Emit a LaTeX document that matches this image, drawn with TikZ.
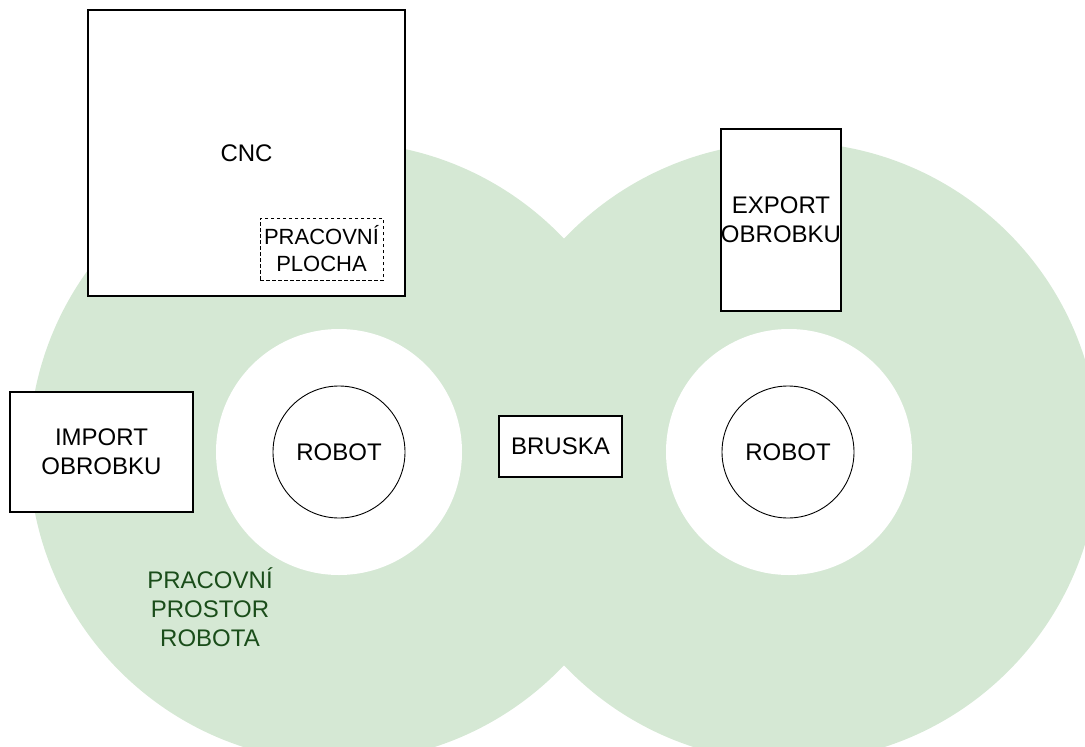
\documentclass[tikz,border=0pt]{standalone}
\usepackage{fontspec}
\setmainfont{Liberation Sans}
\definecolor{zonefill}{HTML}{D5E8D4}
\definecolor{zonetext}{HTML}{1A4D1A}
\begin{document}
\begin{tikzpicture}[x=1pt,y=-1pt,
  lbl/.style={font=\fontsize{24}{29}\selectfont, align=center},
  box/.style={lbl, draw=black, line width=1.2pt, fill=white, inner sep=0pt},
  table/.style={draw=black, line width=0.9pt, dash pattern=on 3.5pt off 2.5pt,
    inner sep=0pt, align=center, font=\fontsize{22}{27}\selectfont},
  robot/.style={lbl, circle, draw=black, line width=0.9pt, fill=white,
    inner sep=0pt, minimum size=132pt},
  reach/.style={fill=zonefill},
  hole/.style={fill=white}]
\useasboundingbox (0,0) rectangle (1085,747);
\clip (0,0) rectangle (1085,747);

% working envelopes of both robots
\fill[reach] (339,452) circle[radius=310];
\fill[reach] (789,452) circle[radius=310];
\fill[hole] (339,452) circle[radius=123];
\fill[hole] (789,452) circle[radius=123];

% robots
\node[robot] (robotL) at (339,452) {ROBOT};
\node[robot] (robotR) at (788,452) {ROBOT};

% machines and stations
\node[box, minimum width=317pt, minimum height=286pt] (cnc) at (246.5,153) {CNC};
\node[table, minimum width=123pt, minimum height=62pt] (plocha) at (321.5,249)
  {PRACOVNÍ\\PLOCHA};
\node[box, minimum width=183pt, minimum height=120pt] (import) at (101.5,452)
  {IMPORT\\OBROBKU};
\node[box, minimum width=123pt, minimum height=61pt] (bruska) at (560.5,446.5) {BRUSKA};
\node[box, minimum width=120pt, minimum height=182pt] (export) at (781,220)
  {EXPORT\\OBROBKU};

% envelope caption
\node[lbl, text=zonetext] (zone) at (210,607) {PRACOVNÍ\\PROSTOR\\ROBOTA};
\end{tikzpicture}
\end{document}
